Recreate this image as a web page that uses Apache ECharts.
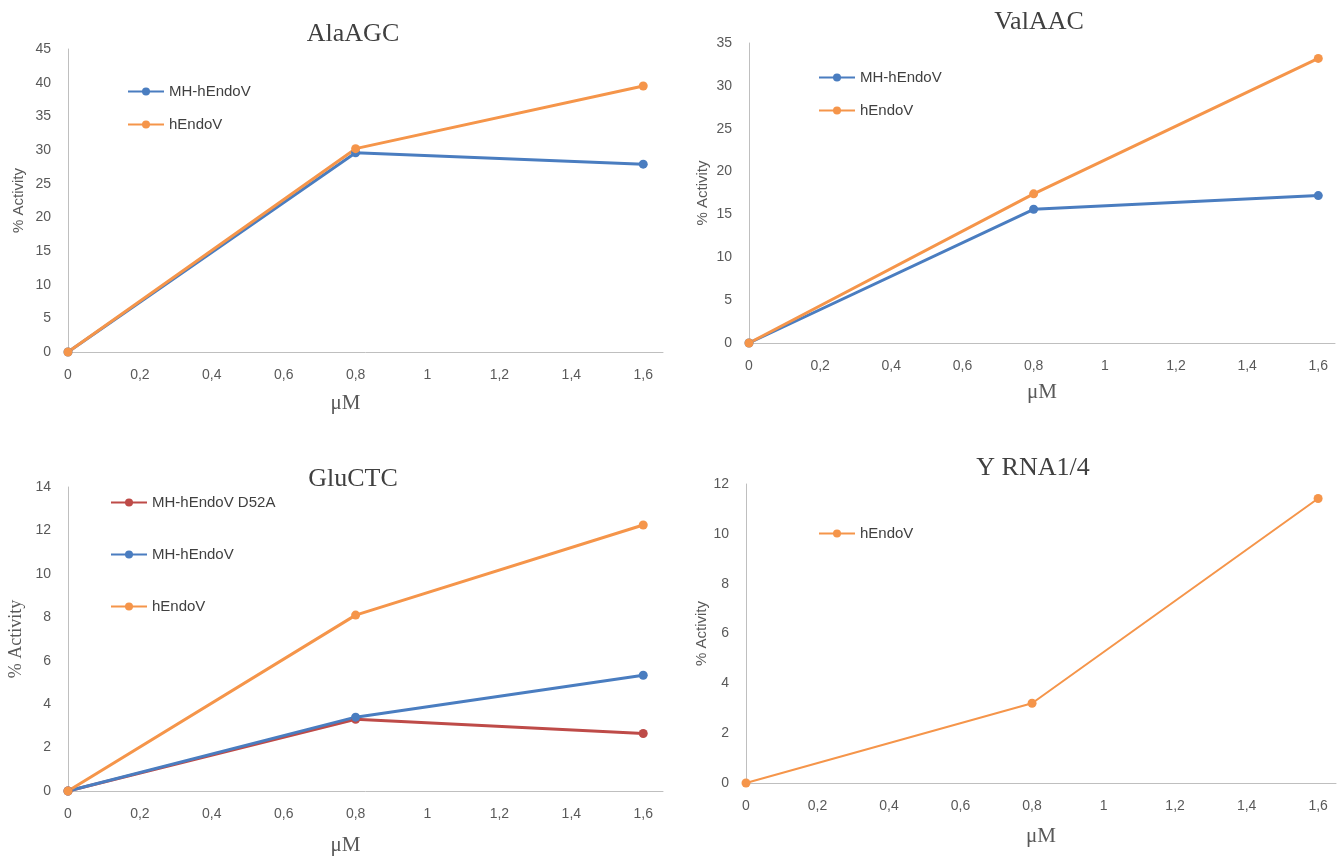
<!DOCTYPE html>
<html>
<head>
<meta charset="utf-8">
<script src="https://cdn.jsdelivr.net/npm/echarts@6/dist/echarts.min.js"></script>
<style>html,body{margin:0;padding:0;background:#fff}#c{width:1341px;height:859px}</style>
</head>
<body>
<div id="c"></div>
<script>
// ---- data ----
const xValues = [0, 0.8, 1.6];
const titles = ['AlaAGC', 'ValAAC', 'GluCTC', 'Y RNA1/4'];
const alaMH = [0, 29.6, 27.9];
const alaH = [0, 30.2, 39.5];
const valMH = [0, 15.6, 17.2];
const valH = [0, 17.4, 33.2];
const gluD52A = [0, 3.3, 2.65];
const gluMH = [0, 3.4, 5.33];
const gluH = [0, 8.1, 12.25];
const yrnaH = [0, 3.2, 11.42];
const yMax = [45, 35, 14, 12];
const yInterval = [5, 5, 2, 2];

const BLUE = '#4A7DC0', ORANGE = '#F5954A', RED = '#BE4B48';
const SANS = '"Liberation Sans", Arial, sans-serif';
const SERIF = '"Liberation Serif", "Times New Roman", serif';

const grids = [
  {left: 68, top: 49, width: 595, height: 303, xmax: 1.655, titleX: 348, titleY: 16, nameGapY: 42, nameGapX: 41, yNameFont: SANS, yNameSize: 15, xNameShift: 40},
  {left: 749, top: 43, width: 586, height: 300, xmax: 1.647, titleX: 1034, titleY: 4, nameGapY: 39, nameGapX: 39, yNameFont: SANS, yNameSize: 15, xNameShift: 0},
  {left: 68, top: 487, width: 595, height: 304, xmax: 1.655, titleX: 348, titleY: 461, nameGapY: 43, nameGapX: 44, yNameFont: SERIF, yNameSize: 18, xNameShift: 40},
  {left: 746, top: 484, width: 590, height: 299, xmax: 1.65, titleX: 1028, titleY: 450, nameGapY: 36, nameGapX: 43, yNameFont: SANS, yNameSize: 15, xNameShift: 0}
];

const pts = arr => arr.map((v, i) => [xValues[i], v]);
const comma = v => String(Math.round(v * 10) / 10).replace('.', ',');
const legendText = {fontFamily: SANS, fontSize: 15, color: '#404040', lineHeight: 14};

const option = {
  backgroundColor: '#fff',
  animation: false,
  title: grids.map((g, i) => ({
    text: titles[i], left: g.titleX, top: g.titleY, textAlign: 'center',
    textStyle: {fontFamily: SERIF, fontSize: 26, fontWeight: 'normal', color: '#404040'}
  })),
  grid: grids.map(g => ({left: g.left, top: g.top, width: g.width, height: g.height, containLabel: false})),
  xAxis: grids.map((g, i) => ({
    gridIndex: i, type: 'value', min: 0, max: g.xmax, interval: 0.2,
    name: 'μM', nameLocation: 'middle', nameGap: g.nameGapX,
    nameTextStyle: {fontFamily: SERIF, fontSize: 21, color: '#595959', padding: [0, g.xNameShift, 0, 0]},
    axisLine: {show: true, lineStyle: {color: '#BFBFBF', width: 1}},
    axisTick: {show: false}, splitLine: {show: false},
    axisLabel: {showMaxLabel: false, fontFamily: SANS, fontSize: 14, color: '#595959', margin: 16,
      formatter: v => (Math.abs(v / 0.2 - Math.round(v / 0.2)) < 1e-6 ? comma(v) : '')}
  })),
  yAxis: grids.map((g, i) => ({
    gridIndex: i, type: 'value', min: 0, max: yMax[i], interval: yInterval[i],
    name: '% Activity', nameLocation: 'middle', nameGap: g.nameGapY,
    nameTextStyle: {fontFamily: g.yNameFont, fontSize: g.yNameSize, color: '#595959'},
    axisLine: {show: true, lineStyle: {color: '#BFBFBF', width: 1}},
    axisTick: {show: false}, splitLine: {show: false},
    axisLabel: {fontFamily: SANS, fontSize: 14, color: '#595959', margin: 17}
  })),
  legend: [
    {left: 122, top: 79, orient: 'vertical', itemGap: 18, itemWidth: 36, itemHeight: 10,
      textStyle: legendText, data: ['MH-hEndoV', 'hEndoV'].map(n => ({name: n})), selectedMode: false},
    {left: 813, top: 65, orient: 'vertical', itemGap: 18, itemWidth: 36, itemHeight: 10,
      textStyle: legendText, data: ['MH-hEndoV ', 'hEndoV '].map(n => ({name: n})), selectedMode: false},
    {left: 105, top: 490, orient: 'vertical', itemGap: 37, itemWidth: 36, itemHeight: 10,
      textStyle: legendText, data: ['MH-hEndoV D52A', 'MH-hEndoV  ', 'hEndoV  '].map(n => ({name: n})), selectedMode: false},
    {left: 813, top: 521, orient: 'vertical', itemGap: 18, itemWidth: 36, itemHeight: 10,
      textStyle: legendText, data: ['hEndoV   '].map(n => ({name: n})), selectedMode: false}
  ],
  series: [
    {name: 'MH-hEndoV', idx: 0, data: alaMH, color: BLUE, w: 3},
    {name: 'hEndoV', idx: 0, data: alaH, color: ORANGE, w: 3},
    {name: 'MH-hEndoV ', idx: 1, data: valMH, color: BLUE, w: 3},
    {name: 'hEndoV ', idx: 1, data: valH, color: ORANGE, w: 3},
    {name: 'MH-hEndoV D52A', idx: 2, data: gluD52A, color: RED, w: 3},
    {name: 'MH-hEndoV  ', idx: 2, data: gluMH, color: BLUE, w: 3},
    {name: 'hEndoV  ', idx: 2, data: gluH, color: ORANGE, w: 3},
    {name: 'hEndoV   ', idx: 3, data: yrnaH, color: ORANGE, w: 2}
  ].map(s => ({
    type: 'line', name: s.name, xAxisIndex: s.idx, yAxisIndex: s.idx,
    data: pts(s.data), symbol: 'circle', symbolSize: 9,
    itemStyle: {color: s.color}, lineStyle: {color: s.color, width: s.w}
  }))
};

const chart = echarts.init(document.getElementById('c'));
chart.setOption(option);
</script>
</body>
</html>
